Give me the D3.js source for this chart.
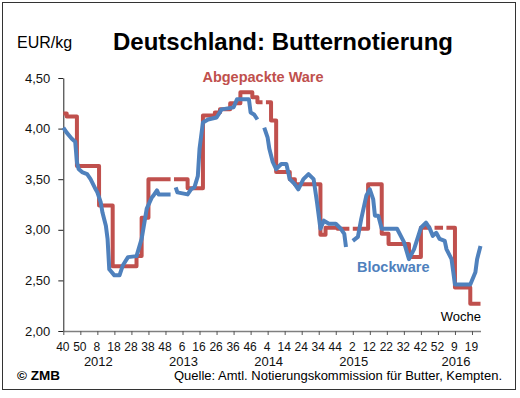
<!DOCTYPE html>
<html>
<head>
<meta charset="utf-8">
<script src="https://cdn.jsdelivr.net/npm/d3@7"></script>
<style>
body { margin: 0; background: #fff; }
text { font-family: "Liberation Sans", Arial, sans-serif; }
</style>
</head>
<body>
<div id="chart"></div>
<script>

// week index: 0 = KW 40/2011
// Abgepackte Ware (step series: price valid from week until next entry, null = no quote)
var redWeeks  = [0, 2, 8, 21, 29, 43, 46, 50, 63, 65, 73, 82, 89, 92, 98, 104, 111, 114, 117, 119,
                 122, 125, 133, 136, 151, 154, 161, 168, 170, 179, 187, 191, 203, 210, 216, 218, 223, 225, 230, 239];
var redPrices = [4.15, 4.12, 3.63, 3.24, 2.64, 2.74, 3.12, 3.50, null, 3.50, 3.41, 4.13, 4.16, 4.19, 4.25, 4.36, 4.31, 4.26, null, 4.26,
                 4.08, 3.57, 3.50, 3.45, 2.95, 3.02, 3.01, null, 3.01, 3.45, 2.96, 2.86, 2.73, 3.02, null, 3.02, null, 3.02, 2.43, 2.27];
var redEndWeek = 245;

// Blockware
var blueWeeks  = [0, 2, 5, 7, 8, 9, 11, 14, 16, 19, 20, 22, 23, 25, 26, 27, 30, 33, 35, 38,
                  43, 46, 49, 52, 53, 55, 56, 63, 64, 66, 67, 73, 75, 77, 79, 80, 82, 85, 90, 93,
                  100, 102, 109, 110, 112, 114, 115, 118, 120, 121, 123, 125, 128, 131, 133, 136, 138, 141, 144, 147,
                  149, 151, 153, 156, 160, 163, 165, 166, 167, 170, 173, 175, 178, 180, 182, 183, 185, 187, 196, 200,
                  203, 206, 210, 213, 215, 217, 219, 221, 224, 225, 228, 230, 239, 242, 243, 245];
var bluePrices = [4.01, 3.96, 3.90, 3.87, 3.67, 3.60, 3.57, 3.55, 3.50, 3.40, 3.37, 3.27, 3.17, 3.04, 2.91, 2.61, 2.55, 2.55, 2.65, 2.73,
                  2.74, 2.91, 3.21, 3.32, 3.34, 3.39, 3.35, 3.35, null, 3.42, 3.37, 3.35, 3.40, 3.42, 3.53, 3.80, 4.06, 4.09, 4.11, 4.19,
                  4.21, 4.29, 4.29, 4.16, 4.14, 4.09, null, 4.01, 3.91, 3.80, 3.67, 3.60, 3.65, 3.65, 3.50, 3.45, 3.40, 3.50, 3.55, 3.50,
                  3.27, 3.01, 3.09, 3.06, 3.06, 3.01, 2.96, 2.83, null, 2.89, 2.93, 3.11, 3.34, 3.40, 3.30, 3.14, 3.14, 3.01, 3.01, 2.88,
                  2.71, 2.81, 3.02, 3.07, 3.02, 2.94, 2.97, 2.91, 2.89, 2.81, 2.71, 2.46, 2.46, 2.58, 2.71, 2.84];

// axis labels
var tickWeeks  = [0, 10, 20, 30, 40, 50, 60, 70, 80, 90, 100, 110, 120, 130, 140, 150, 160, 170, 180, 190, 200, 210, 220, 230, 240];
var weekLabels = ["40", "50", "8", "18", "28", "38", "48", "6", "16", "26", "36", "46", "4", "14", "24", "34", "44",
                  "2", "12", "22", "32", "42", "52", "9", "19"];
var yearLabels = ["2012", "2013", "2014", "2015", "2016"];
var yearWeeks  = [20, 70, 120, 170, 230];
var yTicks = [2.0, 2.5, 3.0, 3.5, 4.0, 4.5];

var width = 520, height = 398;
var redColor = "#C0504D", blueColor = "#4F81BD";

var de = d3.formatLocale({decimal: ",", thousands: ".", grouping: [3], currency: ["", " €"]});
var fmt = de.format(".2f");

var svg = d3.select("#chart")
  .append("svg")
    .attr("width", width)
    .attr("height", height);

// chart border
svg.append("rect")
  .attr("x", 2.5).attr("y", 2.5)
  .attr("width", 513).attr("height", 387)
  .attr("fill", "#fff")
  .attr("stroke", "#333")
  .attr("stroke-width", 1);

var x = d3.scaleLinear().domain([0, 245]).range([63.3, 480.5]);
var y = d3.scaleLinear().domain([2, 4.5]).range([331, 78]);

// y axis
var yAxis = svg.append("g")
  .attr("transform", "translate(63.3,0)")
  .call(d3.axisLeft(y).tickValues(yTicks).tickSize(5).tickSizeOuter(0).tickPadding(8).tickFormat(fmt));
yAxis.select(".domain").attr("stroke", "#222");
yAxis.selectAll(".tick line").attr("stroke", "#222");
yAxis.selectAll("text").attr("font-size", 13).attr("fill", "#111").attr("font-family", null);

// x axis
var xAxis = svg.append("g")
  .attr("transform", "translate(0,331)")
  .call(d3.axisBottom(x).tickValues(tickWeeks).tickSize(4).tickSizeOuter(0).tickPadding(7)
    .tickFormat(function(d, i) { return weekLabels[i]; }));
xAxis.select(".domain").attr("stroke", "#7f7f7f").attr("stroke-width", 1.6);
xAxis.selectAll(".tick line").attr("stroke", "#555");
xAxis.selectAll("text").attr("font-size", 12).attr("fill", "#111").attr("font-family", null).attr("dx", -1);

svg.append("g").selectAll("text")
  .data(yearLabels)
  .enter()
  .append("text")
    .attr("x", function(d, i) { return x(yearWeeks[i]) + 1; })
    .attr("y", 366)
    .attr("text-anchor", "middle")
    .attr("font-size", 13)
    .attr("fill", "#111")
    .text(d => d);

// build red step points, closing each run before a gap / at the end
var redPts = [];
redWeeks.forEach(function(w, i) {
  var v = redPrices[i];
  if (v == null) { redPts.push({w: w, v: null}); return; }
  redPts.push({w: w, v: v});
  var last = i === redWeeks.length - 1;
  if (last || redPrices[i + 1] == null) {
    redPts.push({w: last ? redEndWeek : redWeeks[i + 1], v: v});
  }
});
var bluePts = blueWeeks.map(function(w, i) { return {w: w, v: bluePrices[i]}; });

var redLine = d3.line()
  .defined(d => d.v != null)
  .curve(d3.curveStepAfter)
  .x(d => x(d.w))
  .y(d => y(d.v));

var blueLine = d3.line()
  .defined(d => d.v != null)
  .x(d => x(d.w))
  .y(d => y(d.v));

svg.append("path")
  .datum(redPts)
  .attr("d", redLine)
  .attr("fill", "none")
  .attr("stroke", redColor)
  .attr("stroke-width", 4)
  .attr("stroke-linejoin", "round");

svg.append("path")
  .datum(bluePts)
  .attr("d", blueLine)
  .attr("fill", "none")
  .attr("stroke", blueColor)
  .attr("stroke-width", 4)
  .attr("stroke-linejoin", "round");

// texts
svg.append("text")
  .attr("x", 283).attr("y", 50)
  .attr("text-anchor", "middle")
  .attr("font-size", 24).attr("font-weight", "bold")
  .text("Deutschland: Butternotierung");

svg.append("text")
  .attr("x", 17).attr("y", 48)
  .attr("font-size", 16)
  .text("EUR/kg");

svg.append("text")
  .attr("x", 263).attr("y", 81.5)
  .attr("text-anchor", "middle")
  .attr("font-size", 14.5).attr("font-weight", "bold")
  .attr("fill", redColor)
  .text("Abgepackte Ware");

svg.append("text")
  .attr("x", 357).attr("y", 271.5)
  .attr("font-size", 14.5).attr("font-weight", "bold")
  .attr("fill", blueColor)
  .text("Blockware");

svg.append("text")
  .attr("x", 481).attr("y", 321)
  .attr("text-anchor", "end")
  .attr("font-size", 13)
  .text("Woche");

svg.append("text")
  .attr("x", 17).attr("y", 380)
  .attr("font-size", 13.5).attr("font-weight", "bold")
  .text("© ZMB");

svg.append("text")
  .attr("x", 502).attr("y", 380)
  .attr("text-anchor", "end")
  .attr("font-size", 13)
  .text("Quelle: Amtl. Notierungskommission für Butter, Kempten.");

</script>
</body>
</html>
